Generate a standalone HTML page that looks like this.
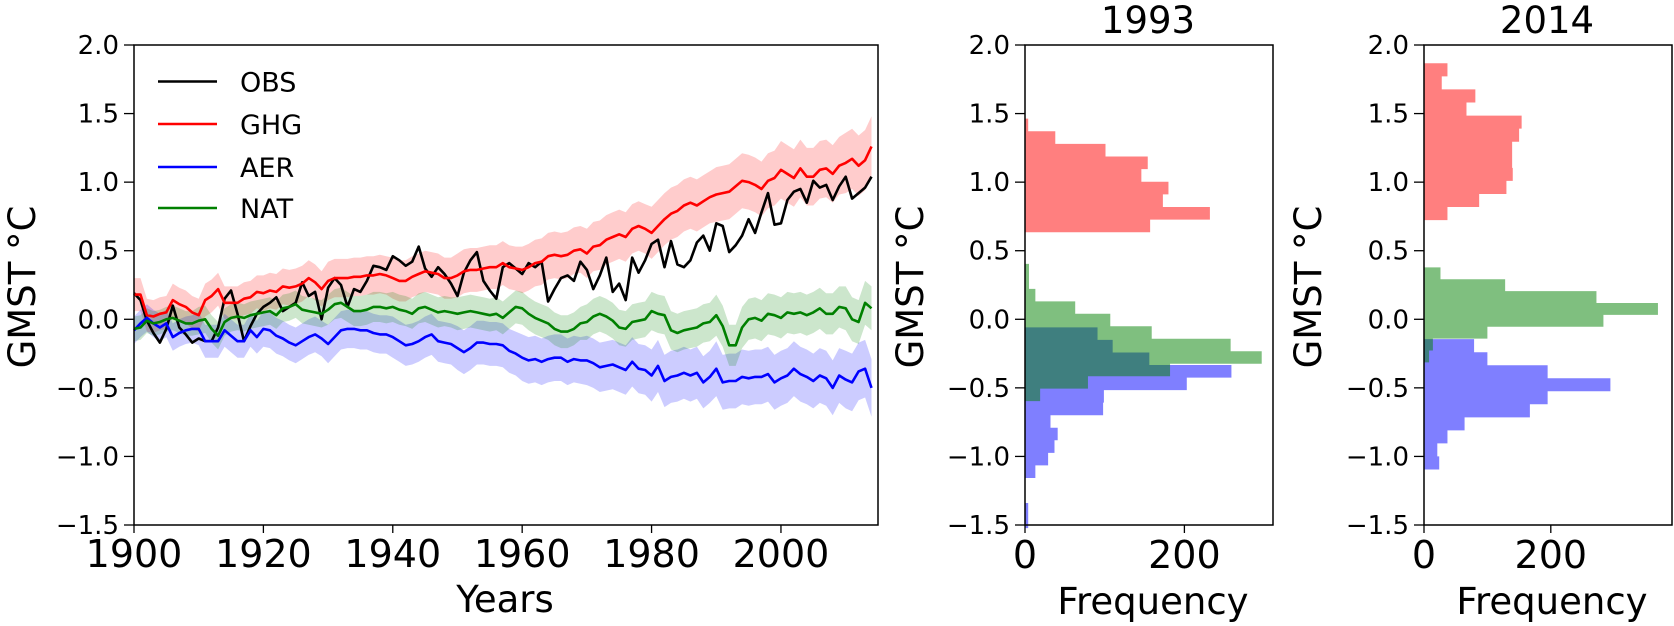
<!DOCTYPE html>
<html><head><meta charset="utf-8">
<style>
html,body{margin:0;padding:0;background:#fff;}
svg{display:block;font-family:"DejaVu Sans","Liberation Sans",sans-serif;}
</style></head>
<body>
<svg id="fig" width="1674" height="626" viewBox="0 0 1674 626" xmlns="http://www.w3.org/2000/svg">
<g id="main"></g>
<g id="h1"></g>
<g id="h2"></g>
</svg>
<script>
// ---- time series data (1900-2014) ----
const startYear = 1900;
const obs = [0.19,0.14,-0.01,-0.10,-0.17,-0.07,0.10,-0.06,-0.11,-0.17,
-0.14,-0.16,-0.16,-0.06,0.15,0.21,0.04,-0.16,-0.05,0.04,
0.09,0.12,0.16,0.06,0.09,0.12,0.27,0.17,0.20,0.00,
0.23,0.30,0.25,0.09,0.22,0.20,0.28,0.39,0.38,0.36,
0.46,0.43,0.39,0.42,0.53,0.37,0.31,0.38,0.33,0.26,
0.17,0.34,0.43,0.49,0.28,0.21,0.15,0.38,0.41,0.37,
0.33,0.41,0.38,0.42,0.13,0.22,0.30,0.32,0.28,0.42,
0.36,0.22,0.32,0.45,0.20,0.26,0.14,0.45,0.34,0.43,
0.55,0.58,0.38,0.57,0.40,0.38,0.43,0.56,0.61,0.50,
0.70,0.68,0.49,0.54,0.61,0.73,0.63,0.78,0.92,0.69,
0.70,0.87,0.93,0.95,0.85,1.01,0.96,0.98,0.87,0.97,
1.04,0.88,0.92,0.96,1.04];
const ghg = [0.18,0.18,0.03,0.02,0.04,0.05,0.14,0.11,0.09,0.05,
0.03,0.14,0.17,0.22,0.12,0.12,0.12,0.15,0.16,0.20,
0.19,0.21,0.20,0.24,0.23,0.24,0.26,0.30,0.27,0.22,
0.28,0.30,0.30,0.30,0.31,0.31,0.32,0.32,0.33,0.32,
0.30,0.28,0.28,0.31,0.33,0.35,0.34,0.33,0.30,0.30,
0.32,0.35,0.36,0.36,0.37,0.38,0.38,0.41,0.38,0.37,
0.36,0.38,0.41,0.42,0.46,0.47,0.46,0.47,0.50,0.51,
0.48,0.53,0.54,0.58,0.60,0.62,0.60,0.66,0.68,0.66,
0.63,0.68,0.73,0.77,0.79,0.83,0.85,0.83,0.86,0.89,
0.91,0.92,0.93,0.97,1.01,1.00,0.98,0.95,1.01,1.03,
1.09,1.06,1.03,1.10,1.04,1.04,1.09,1.10,1.06,1.12,
1.14,1.17,1.12,1.16,1.26];
const aer = [-0.08,-0.03,0.01,-0.03,-0.06,-0.03,-0.13,-0.10,-0.08,-0.07,
-0.07,-0.16,-0.16,-0.16,-0.08,-0.12,-0.16,-0.16,-0.08,-0.13,
-0.07,-0.08,-0.12,-0.14,-0.17,-0.19,-0.16,-0.13,-0.11,-0.14,
-0.18,-0.13,-0.08,-0.07,-0.07,-0.08,-0.08,-0.10,-0.11,-0.11,
-0.13,-0.16,-0.19,-0.18,-0.16,-0.13,-0.11,-0.16,-0.17,-0.18,
-0.21,-0.24,-0.21,-0.17,-0.17,-0.18,-0.18,-0.19,-0.23,-0.25,
-0.28,-0.30,-0.29,-0.31,-0.29,-0.28,-0.28,-0.31,-0.29,-0.30,
-0.30,-0.32,-0.35,-0.34,-0.33,-0.35,-0.37,-0.31,-0.36,-0.37,
-0.41,-0.34,-0.45,-0.42,-0.41,-0.39,-0.41,-0.39,-0.46,-0.42,
-0.36,-0.46,-0.45,-0.45,-0.42,-0.43,-0.42,-0.42,-0.40,-0.46,
-0.43,-0.41,-0.36,-0.40,-0.42,-0.45,-0.41,-0.43,-0.50,-0.41,
-0.44,-0.46,-0.38,-0.36,-0.50];
const nat = [-0.07,-0.06,-0.01,-0.03,-0.02,0.00,0.01,-0.01,-0.03,-0.03,
-0.01,0.00,-0.07,-0.12,-0.02,0.01,0.02,0.01,0.03,0.04,
0.05,0.06,0.03,0.08,0.09,0.11,0.07,0.06,0.05,0.04,
0.07,0.11,0.12,0.09,0.06,0.06,0.07,0.09,0.09,0.08,
0.09,0.07,0.06,0.04,0.08,0.09,0.07,0.05,0.06,0.05,
0.04,0.05,0.06,0.05,0.04,0.03,0.04,0.01,0.05,0.09,
0.08,0.04,0.01,-0.01,-0.03,-0.07,-0.09,-0.09,-0.07,-0.03,
-0.02,0.02,0.04,0.02,-0.01,-0.06,-0.07,-0.02,-0.01,0.00,
0.06,0.04,0.03,-0.08,-0.10,-0.08,-0.07,-0.06,-0.03,-0.02,
0.03,-0.05,-0.19,-0.19,-0.06,0.00,0.01,-0.01,0.04,0.03,
0.01,0.05,0.04,0.05,0.03,0.05,0.08,0.04,0.04,0.09,
0.08,0.00,-0.02,0.12,0.08];
// band half-widths per decade (1900s ... 2010s)
const ghgSpread = [0.12,0.12,0.13,0.14,0.15,0.16,0.17,0.18,0.19,0.20,0.21,0.22];
const aerSpread = [0.10,0.12,0.13,0.14,0.15,0.16,0.17,0.18,0.19,0.20,0.20,0.21];
const natSpread = [0.09,0.10,0.10,0.11,0.11,0.12,0.12,0.13,0.14,0.15,0.15,0.16];
const yTicks = [2.0,1.5,1.0,0.5,0.0,-0.5,-1.0,-1.5];
const xTicks = [1900,1920,1940,1960,1980,2000];
const legendNames = ["OBS","GHG","AER","NAT"];
// ---- histogram data ----
const h93RedStart = 0.635, h93RedWidth = 0.092;
const h93Red = [157,232,173,180,146,154,101,38,4];
const h93GreenStart = -0.597, h93GreenWidth = 0.091;
const h93Green = [19,79,182,297,258,159,107,63,13,5,5];
const h93BlueStart = -1.523, h93BlueWidth = 0.0915;
const h93Blue = [4,4,0,0,13,29,37,41,32,98,99,203,259,156,110,91];
const h14RedStart = 0.723, h14RedWidth = 0.0953;
const h14Red = [37,87,130,140,139,139,150,154,67,81,28,37];
const h14GreenStart = -0.314, h14GreenWidth = 0.0866;
const h14Green = [8,14,100,283,369,272,128,26];
const h14BlueStart = -1.095, h14BlueWidth = 0.095;
const h14Blue = [24,21,37,64,167,195,294,195,100,79];
const freqTicks = [0,200];

const NS = "http://www.w3.org/2000/svg";
function mk(parent, tag, attrs, text){
  const e = document.createElementNS(NS, tag);
  for (const k in attrs) e.setAttribute(k, attrs[k]);
  if (text !== undefined) e.textContent = text;
  parent.appendChild(e);
  return e;
}
const TOP = 45, BOT = 525;
function yv(v){ return BOT - (v + 1.5) * (BOT - TOP) / 3.5; }

// ---------- main panel ----------
const main = document.getElementById('main');
const L = 134, R = 878;
function xm(yr){ return L + (yr - 1900) * (R - L) / 115; }
function band(vals, spread, color, name){
  let up = [], dn = [];
  vals.forEach((v,i)=>{
    const s = spread[Math.min(spread.length-1, Math.floor(i/10))];
    up.push(xm(startYear+i).toFixed(1)+","+yv(v+s).toFixed(1));
    dn.unshift(xm(startYear+i).toFixed(1)+","+yv(v-s).toFixed(1));
  });
  const p = mk(main,'polygon',{points: up.concat(dn).join(' '), fill: color, 'fill-opacity': 0.2, stroke:'none'});
  
  
}
function line(vals, color, name){
  const pts = vals.map((v,i)=> xm(startYear+i).toFixed(1)+","+yv(v).toFixed(1)).join(' ');
  const p = mk(main,'polyline',{points: pts, fill:'none', stroke: color, 'stroke-width': 2.6, 'stroke-linejoin':'round'});
  
  
}
band(ghg, ghgSpread, '#ff0000', 'ghg-band');
band(aer, aerSpread, '#0000ff', 'aer-band');
band(nat, natSpread, '#008000', 'nat-band');
line(obs, '#000000', 'obs-line');
line(ghg, '#ff0000', 'ghg-line');
line(aer, '#0000ff', 'aer-line');
line(nat, '#008000', 'nat-line');

function frame(g, l, r, name){
  const f = mk(g,'rect',{x:l, y:TOP, width:r-l, height:BOT-TOP, fill:'none', stroke:'#000', 'stroke-width':1.5});
  
  
}
function yAxis(g, l, labelX, name){
  yTicks.forEach(t=>{
    mk(g,'line',{x1:l-10, x2:l, y1:yv(t), y2:yv(t), stroke:'#000','stroke-width':1.3});
    const tx = mk(g,'text',{x:l-15, y:yv(t)+9, 'text-anchor':'end', 'font-size':26}, (t<0?'\u2212':'')+Math.abs(t).toFixed(1));
    
    
  });
  const yl = mk(g,'text',{x:labelX, y:287, 'text-anchor':'middle', 'font-size':37, transform:'rotate(-90 '+labelX+' 287)', dy:13}, 'GMST °C');
  
  
}
frame(main, L, R, 'main-plot-frame');
yAxis(main, L, 22, 'main-y-axis-title');
xTicks.forEach(t=>{
  mk(main,'line',{x1:xm(t), x2:xm(t), y1:BOT, y2:BOT+8, stroke:'#000','stroke-width':1.3});
  const tx = mk(main,'text',{x:xm(t), y:567, 'text-anchor':'middle', 'font-size':38}, String(t));
  
  
});
const xl = mk(main,'text',{x:505, y:612, 'text-anchor':'middle', 'font-size':37}, 'Years');



const legColors = ['#000000','#ff0000','#0000ff','#008000'];
const legY = [81.5,124,167,208];
legendNames.forEach((n,i)=>{
  const g = mk(main,'g',{});
  
  
  mk(g,'line',{x1:158, x2:217, y1:legY[i], y2:legY[i], stroke:legColors[i], 'stroke-width':2.6});
  mk(g,'text',{x:240, y:legY[i]+10, 'font-size':27}, n);
});

// ---------- histograms ----------
function hist(gid, l, r, perCount, title, titleX, labelX, sets){
  const g = document.getElementById(gid);
  sets.forEach(s=>{
    // one step-filled polygon per series (no seams between bins)
    let pts = [];
    const n = s.counts.length;
    pts.push(l+","+yv(s.start).toFixed(2));
    s.counts.forEach((c,i)=>{
      const x = (l + c*perCount).toFixed(2);
      pts.push(x+","+yv(s.start + i*s.width).toFixed(2));
      pts.push(x+","+yv(s.start + (i+1)*s.width).toFixed(2));
    });
    pts.push(l+","+yv(s.start + n*s.width).toFixed(2));
    const b = mk(g,'polygon',{points: pts.join(' '), fill:s.color, 'fill-opacity':0.5, stroke:'none'});
    
    
  });
  frame(g, l, r, gid+'-plot-frame');
  yAxis(g, l, labelX, gid+'-y-axis-title');
  freqTicks.forEach(t=>{
    const x = l + t*perCount;
    mk(g,'line',{x1:x, x2:x, y1:BOT, y2:BOT+8, stroke:'#000','stroke-width':1.3});
    const tx = mk(g,'text',{x:x, y:568, 'text-anchor':'middle', 'font-size':38}, String(t));
    
    
  });
  const fl = mk(g,'text',{x:(l+r)/2+4, y:614, 'text-anchor':'middle', 'font-size':37}, 'Frequency');
  
  
  const tt = mk(g,'text',{x:titleX, y:33, 'text-anchor':'middle', 'font-size':37}, title);
  
  
}
hist('h1', 1025, 1273, 0.797, '1993', 1148, 910, [
  {start:h93RedStart, width:h93RedWidth, counts:h93Red, color:'#ff0000', name:'ghg-1993'},
  {start:h93BlueStart, width:h93BlueWidth, counts:h93Blue, color:'#0000ff', name:'aer-1993'},
  {start:h93GreenStart, width:h93GreenWidth, counts:h93Green, color:'#008000', name:'nat-1993'}
]);
hist('h2', 1424, 1672, 0.634, '2014', 1547, 1308, [
  {start:h14RedStart, width:h14RedWidth, counts:h14Red, color:'#ff0000', name:'ghg-2014'},
  {start:h14BlueStart, width:h14BlueWidth, counts:h14Blue, color:'#0000ff', name:'aer-2014'},
  {start:h14GreenStart, width:h14GreenWidth, counts:h14Green, color:'#008000', name:'nat-2014'}
]);
</script>
</body></html>
